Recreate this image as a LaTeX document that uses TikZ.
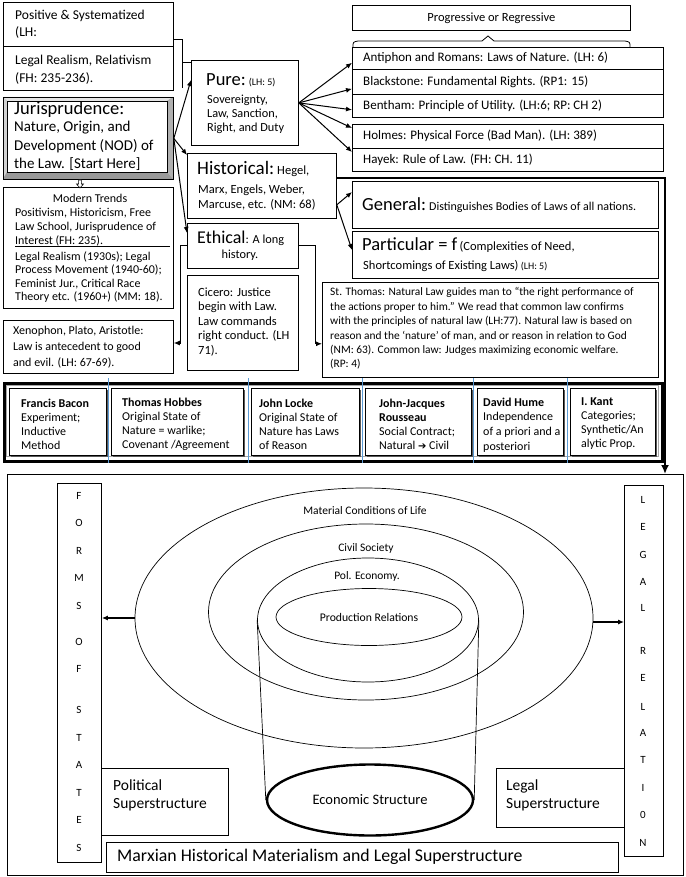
\documentclass[tikz,border=0pt]{standalone}
\usepackage{fontspec}
\setmainfont{Carlito}
\newfontfamily\djv{DejaVu Sans}
\usetikzlibrary{arrows.meta,calc,shapes.geometric,shadows}
\newcommand\fsz[2]{\fontsize{#1}{#2}\selectfont}
\begin{document}
\begin{tikzpicture}[x=1pt,y=-1pt,
  bx/.style={draw, line width=0.8pt, fill=white, inner sep=0pt, anchor=north west},
  tx/.style={anchor=west, inner sep=0pt, align=left},
  arr/.style={line width=1pt, -{Latex[length=6pt,width=5pt]}},
  pb/.style={draw, line width=0.7pt, fill=white, anchor=north west, inner sep=0pt, minimum height=67pt,
     drop shadow={shadow xshift=1.8pt, shadow yshift=-1.8pt, fill=black!65, opacity=1}},
  ell/.style={draw, ellipse, inner sep=0pt, line width=0.7pt},
  lt/.style={inner sep=0pt, font=\fsz{11}{12}}
]
\useasboundingbox (0,0) rectangle (685,877);

% ---------- top-left boxes
\node[bx, minimum width=170pt, minimum height=44pt] (pos) at (3,2) {};
\node[tx, font=\fsz{13.5}{17}] (post) at (15,24.5) {Positive \& Systematized\\(LH:};
\node[bx, minimum width=170pt, minimum height=44pt] (lr) at (3,46) {};
\node[tx, font=\fsz{13.5}{18}] (lrt) at (15,70) {Legal Realism, Relativism\\(FH: 235-236).};

% ---------- Jurisprudence bevel box
\fill[gray!55] (3,97) rectangle (173,179);
\fill[gray!20] (3,97) -- (173,97) -- (167,101) -- (7,101) -- cycle;
\fill[gray!35] (3,97) -- (7,101) -- (7,172) -- (3,179) -- cycle;
\fill[gray!80] (3,179) -- (173,179) -- (167,172) -- (7,172) -- cycle;
\fill[gray!62] (173,97) -- (173,179) -- (167,172) -- (167,101) -- cycle;
\node[draw, line width=0.4pt, fill=white, minimum width=160pt, minimum height=71pt, inner sep=0pt, anchor=north west] (jface) at (7,101) {};
\node[draw, line width=0.8pt, minimum width=170pt, minimum height=82pt, inner sep=0pt, anchor=north west] (juris) at (3,97) {};
\node[tx, font=\fsz{18.5}{20}] (jt1) at (14,110) {Jurisprudence:};
\node[tx, font=\fsz{15}{18.2}] (jt2) at (14,146) {Nature, Origin, and\\Development (NOD) of\\the Law. [Start Here]};

% ---------- Modern trends
\node[bx, minimum width=170pt, minimum height=121pt] (mt) at (3,187) {};
\draw[line width=0.6pt, fill=white] (78.6,180) -- (81.4,180) -- (81.4,184) -- (83.5,184) -- (80,188) -- (76.5,184) -- (78.6,184) -- cycle;
\node[inner sep=0pt, font=\fsz{12}{14}] (mt0) at (90,198) {Modern Trends};
\node[tx, font=\fsz{12}{14}] (mt1) at (15,227) {Positivism, Historicism, Free\\Law School, Jurisprudence of\\Interest (FH: 235).};
\draw[line width=0.7pt] (15,246) -- (170,246);
\node[tx, font=\fsz{12}{13.4}] (mt2) at (15,277) {Legal Realism (1930s); Legal\\Process Movement (1940-60);\\Feminist Jur., Critical Race\\Theory etc. (1960+) (MM: 18).};

% ---------- Xenophon
\node[bx, minimum width=170pt, minimum height=53pt] (xen) at (3,320) {};
\node[tx, font=\fsz{12}{16}] (xent) at (13,347) {Xenophon, Plato, Aristotle:\\Law is antecedent to good\\and evil. (LH: 67-69).};

% ---------- Pure / Historical / Ethical / Cicero
\node[bx, minimum width=107pt, minimum height=85pt] (pure) at (191,60) {};
\node[tx] (puret) at (206,80) {{\fsz{18.5}{20}Pure:} {\fsz{10}{11}(LH: 5)}};
\node[tx, font=\fsz{12.3}{14}] (pureb) at (207,114) {Sovereignty,\\Law, Sanction,\\Right, and Duty};

\node[bx, minimum width=149pt, minimum height=65pt] (hist) at (187,153) {};
\node[tx] (histt) at (197,169) {{\fsz{19}{20}Historical:} {\fsz{12.5}{14}Hegel,}};
\node[tx, font=\fsz{12.5}{15.5}] (histb) at (198,197.5) {Marx, Engels, Weber,\\Marcuse, etc. (NM: 68)};

\node[bx, minimum width=111pt, minimum height=45pt] (eth) at (187,223) {};
\node[tx] (etht) at (197,238) {{\fsz{18}{20}Ethical}{\fsz{12.3}{14}: A long}};
\node[inner sep=0pt, font=\fsz{12.3}{14}] (ethb) at (240,255) {history.};

\node[bx, minimum width=111pt, minimum height=95pt] (cic) at (187,275) {};
\node[tx, font=\fsz{12.5}{14.5}] (cict) at (198,322) {Cicero: Justice\\begin with Law.\\Law commands\\right conduct. (LH\\71).};

% ---------- Progressive list
\node[bx, minimum width=278pt, minimum height=25pt] (prog) at (352,5) {};
\node[inner sep=0pt, font=\fsz{12.5}{14}] (progt) at (prog.center) {Progressive or Regressive};
\draw[line width=0.8pt] (353,47) .. controls (353,42) .. (358,41) -- (482,41) -- (488,36) -- (494,41) -- (625,41) .. controls (630,42) .. (630,47);

\node[bx, minimum width=311pt, minimum height=22pt] (anti) at (352,47) {};
\node[bx, minimum width=311pt, minimum height=25pt] (black) at (352,69) {};
\node[bx, minimum width=311pt, minimum height=23pt] (benth) at (352,94) {};
\node[bx, minimum width=311pt, minimum height=24pt] (holm) at (352,124) {};
\node[bx, minimum width=311pt, minimum height=23pt] (hay) at (352,148) {};
\node[tx, font=\fsz{13}{14}] (antit) at (363,58) {Antiphon and Romans: Laws of Nature. (LH: 6)};
\node[tx, font=\fsz{13}{14}] (blackt) at (363,81.5) {Blackstone: Fundamental Rights. (RP1: 15)};
\node[tx, font=\fsz{13}{14}] (bentht) at (363,105.5) {Bentham: Principle of Utility. (LH:6; RP: CH 2)};
\node[tx, font=\fsz{13}{14}] (holmt) at (363,136) {Holmes: Physical Force (Bad Man). (LH: 389)};
\node[tx, font=\fsz{13}{14}] (hayt) at (363,159.5) {Hayek: Rule of Law. (FH: CH. 11)};

% ---------- thick frame line to bottom box
\node[draw, line width=0.9pt, minimum width=676pt, minimum height=401pt, anchor=north west, inner sep=0pt] (big) at (7,474) {};
\draw[line width=2.6pt, -{Latex[length=9pt,width=8pt]}] (hist.east |- 0,178) -| (big.north -| 665,0);

% ---------- General / Particular / St Thomas
\node[bx, minimum width=306pt, minimum height=47pt] (gen) at (352,181) {};
\node[tx] (gent) at (362,205) {{\fsz{18.5}{20}General:} {\fsz{12}{12}Distinguishes Bodies of Laws of all nations.}};
\node[bx, minimum width=306pt, minimum height=47pt] (part) at (352,231) {};
\node[tx] (partt) at (362,245) {{\fsz{18.5}{20}Particular = f} {\fsz{12.5}{14}(Complexities of Need,}};
\node[tx] (partb) at (363,266) {{\fsz{12.5}{14}Shortcomings of Existing Laws)} {\fsz{10}{11}(LH: 5)}};
\node[bx, minimum width=336pt, minimum height=95pt] (st) at (322,282) {};
\node[tx, font=\fsz{11.4}{14.4}] (stt) at (330,328.5) {St. Thomas: Natural Law guides man to “the right performance of\\the actions proper to him.” We read that common law confirms\\with the principles of natural law (LH:77). Natural law is based on\\reason and the ‘nature’ of man, and or reason in relation to God\\(NM: 63). Common law: Judges maximizing economic welfare.\\(RP: 4)};

% ---------- connectors (upper part)
\draw[line width=0.8pt] (pos.east |- 0,39) -- (182,39) -- (182,88);
\draw[line width=0.8pt] (182,62) -- (pure.west |- 0,62);
\draw[arr] (juris.east) -- ($(pure.north west)+(0,20)$);
\draw[arr] (juris.east) -- ($(hist.north west)+(0,2)$);
\draw[arr] (juris.east) -- ($(eth.north west)+(0,10)$);
\draw[arr] (pure.east) -- ($(anti.south west)+(0,-7)$);
\draw[arr] (pure.east) -- ($(black.south west)+(0,-6)$);
\draw[arr] (pure.east) -- ($(benth.south west)+(0,-8)$);
\draw[arr] (pure.east) -- ($(holm.north west)+(0,4)$);
\draw[arr] (pure.east) -- ($(hay.north west)+(0,4)$);
\draw[arr] ($(hist.south east)+(0,-14)$) -- ($(gen.north west)+(0,11)$);
\draw[arr] ($(hist.south east)+(0,-14)$) -- ($(part.north west)+(0,19)$);
\coordinate (xin) at ($(xen.north east)+(0,23)$);
\coordinate (stin) at ($(st.south west)+(0,-34)$);
\draw[arr] (eth.west) -| ($(xin)+(7,0)$) -- (xin);
\draw[arr] (eth.east) -| ($(stin)+(-7,0)$) -- (stin);

% ---------- philosophers band
\node[draw, line width=3pt, fill=white, minimum width=658pt, minimum height=78pt, anchor=north west, inner sep=0pt] (band) at (3,382) {};
\draw[gray!70, line width=1.2pt] (6.5,385.5) rectangle (658.5,456.5);
\node[pb, minimum width=97pt] (bac) at (9,388) {};
\node[pb, minimum width=132pt] (hob) at (111,388) {};
\node[pb, minimum width=108pt] (loc) at (251,388) {};
\node[pb, minimum width=106pt] (rou) at (365,388) {};
\node[pb, minimum width=86pt] (hum) at (477,388) {};
\node[pb, minimum width=85pt] (kan) at (570,388) {};
\foreach \bxl in {108.5,248.5,362,473.5,567}
  \draw[color={rgb,255:red,91;green,155;blue,213}, line width=0.6pt] (\bxl,378) -- (\bxl,463);
\node[tx, font=\fsz{12}{14}] (bact) at (21,424) {\textbf{Francis Bacon}\\Experiment;\\Inductive\\Method};
\node[tx, font=\fsz{12}{14}] (hobt) at (122,424) {\textbf{Thomas Hobbes}\\Original State of\\Nature = warlike;\\Covenant /Agreement};
\node[tx, font=\fsz{12}{14}] (loct) at (259,424) {\textbf{John Locke}\\Original State of\\Nature has Laws\\of Reason};
\node[tx, font=\fsz{12}{14}] (rout) at (379,424) {\textbf{John-Jacques}\\\textbf{Rousseau}\\Social Contract;\\Natural {\djv\fsz{10}{14}➔} Civil};
\node[tx, font=\fsz{12}{14.6}] (humt) at (483,425) {\textbf{David Hume}\\Independence\\of a priori and a\\posteriori};
\node[tx, font=\fsz{12}{14}] (kant) at (581,424) {\textbf{I. Kant}\\Categories;\\Synthetic/An\\alytic Prop.};

% ---------- bottom diagram
\node[ell, minimum width=458pt, minimum height=260pt] (mat) at (364,618) {};
\node[ell, minimum width=315pt, minimum height=176pt] (civ) at (366,612) {};
\node[ell, minimum width=221pt, minimum height=124pt] (pol) at (368,620) {};
\node[ell, minimum width=186pt, minimum height=57pt] (prod) at (369,617) {};
\node[draw, ellipse, inner sep=0pt, line width=2.4pt, fill=white, minimum width=206pt, minimum height=71pt] (econ) at (370,800) {};
\draw[line width=0.7pt] (pol.west) -- (econ.west);
\draw[line width=0.7pt] (pol.east) -- (econ.east);
\node[inner sep=0pt, font=\fsz{11.5}{12}] (matt) at (365,511) {Material Conditions of Life};
\node[inner sep=0pt, font=\fsz{11.5}{12}] (civt) at (366,548) {Civil Society};
\node[inner sep=0pt, font=\fsz{11.5}{12}] (polt) at (367,576) {Pol. Economy.};
\node[inner sep=0pt, font=\fsz{11.7}{12}] (prodt) at (369,617) {Production Relations};
\node[inner sep=0pt, font=\fsz{14.5}{16}] (econt) at (370,800) {Economic Structure};

\node[bx, line width=0.9pt, minimum width=44pt, minimum height=379pt] (forms) at (57,483) {};
\node[bx, line width=0.9pt, minimum width=39pt, minimum height=371pt] (legrel) at (624,485) {};
\foreach \ltr/\yy [count=\k] in {F/496,O/523,R/551,M/578,S/606,O/642,F/669,S/710,T/738,A/765,T/793,E/820,S/848}
  \node[lt] (fl\k) at (79,\yy) {\ltr};
\foreach \ltr/\yy [count=\k] in {L/500,E/527,G/555,A/582,L/608,R/651,E/678,L/707,A/733,T/760,I/788,0/815,N/843}
  \node[lt] (ll\k) at (643,\yy) {\ltr};

\draw[line width=1.1pt, -{Latex[length=6pt,width=5pt]}] (mat.west) -- (forms.east |- mat.west);
\draw[line width=1.1pt, -{Latex[length=6pt,width=5pt]}] ($(mat.east)+(0,4)$) -- (legrel.west |- 0,622);

\node[bx, line width=0.9pt, minimum width=127pt, minimum height=67pt] (polsup) at (101,768) {};
\node[tx, font=\fsz{15.5}{17.5}] (polsupt) at (113,795.5) {Political\\Superstructure};
\node[bx, line width=0.9pt, minimum width=128pt, minimum height=59pt] (legsup) at (496,768) {};
\node[tx, font=\fsz{15.5}{17.5}] (legsupt) at (506,795.5) {Legal\\Superstructure};
\node[bx, line width=0.9pt, minimum width=512pt, minimum height=30pt] (marx) at (106,842) {};
\node[tx, font=\fsz{17.8}{19}] (marxt) at (117,857) {Marxian Historical Materialism and Legal Superstructure};
\end{tikzpicture}
\end{document}
